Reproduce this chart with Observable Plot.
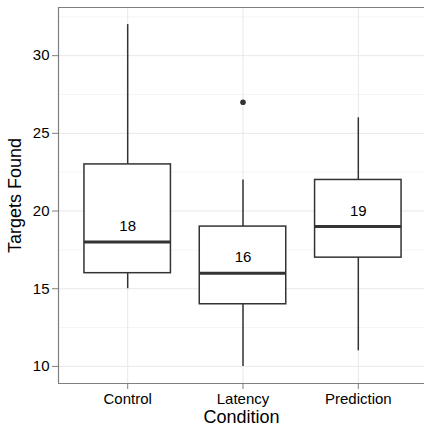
<!DOCTYPE html>
<html>
<head>
<meta charset="utf-8">
<script src="https://cdn.jsdelivr.net/npm/d3@7"></script>
<script src="https://cdn.jsdelivr.net/npm/@observablehq/plot@0.6"></script>
<style>
  body { margin: 0; overflow: hidden; background: white; }
  svg { overflow: hidden; }
  g[aria-label="y-axis label"], g[aria-label="x-axis label"] { font-size: 18px; }
</style>
</head>
<body>
<div id="chart"></div>
<script>
const conditions = ["Control", "Latency", "Prediction"];
const lowerWhisker = [15, 10, 11];
const q1 = [16, 14, 17];
const median = [18, 16, 19];
const q3 = [23, 19, 22];
const upperWhisker = [32, 22, 26];
const outlierCondition = ["Latency"];
const outlierValue = [27];
const yTicks = [10, 15, 20, 25, 30];
const yMinor = [12.5, 17.5, 22.5, 27.5, 32.5];
const yDomain = [8.9, 33.1];
const xDomain = [0.4, 3.6];

const boxes = conditions.map((c, i) => ({
  c, pos: i + 1, lo: lowerWhisker[i], q1: q1[i], med: median[i], q3: q3[i], hi: upperWhisker[i]
}));
const outliers = outlierCondition.map((c, i) => ({pos: conditions.indexOf(c) + 1, v: outlierValue[i]}));
const hw = 0.375;

const plot = Plot.plot({
  width: 424,
  height: 426,
  marginLeft: 58,
  marginRight: 0,
  marginTop: 7,
  marginBottom: 43,
  style: {fontFamily: "'Liberation Sans', Arial, sans-serif", fontSize: "15px", color: "black", background: "white"},
  x: {domain: xDomain, range: [58, 427]},
  y: {domain: yDomain},
  marks: [
    Plot.ruleY(yMinor, {stroke: "#f5f5f5", strokeWidth: 1}),
    Plot.ruleY(yTicks, {stroke: "#e8e8e8", strokeWidth: 1}),
    Plot.ruleX([1, 2, 3], {stroke: "#e8e8e8", strokeWidth: 1}),
    Plot.ruleX(boxes, {x: "pos", y1: "lo", y2: "q1", stroke: "#333333", strokeWidth: 1.5}),
    Plot.ruleX(boxes, {x: "pos", y1: "q3", y2: "hi", stroke: "#333333", strokeWidth: 1.5}),
    Plot.rect(boxes, {x1: d => d.pos - hw, x2: d => d.pos + hw, y1: "q1", y2: "q3", fill: "white", stroke: "#333333", strokeWidth: 1.5}),
    Plot.ruleY(boxes, {y: "med", x1: d => d.pos - hw, x2: d => d.pos + hw, stroke: "#333333", strokeWidth: 3}),
    Plot.dot(outliers, {x: "pos", y: "v", r: 2.8, fill: "#333333", stroke: null}),
    Plot.text(boxes, {x: "pos", y: d => d.med + 1, text: d => String(d.med), fill: "black", fontSize: 15}),
    Plot.ruleY(yDomain, {stroke: "#7f7f7f", strokeWidth: 1.2}),
    Plot.ruleX([xDomain[0]], {stroke: "#7f7f7f", strokeWidth: 1.2}),
    Plot.axisY({ticks: yTicks, tickSize: 6, tickPadding: 3, stroke: "#7f7f7f", fill: "black", label: "Targets Found", labelAnchor: "center", labelOffset: 50, labelArrow: "none"}),
    Plot.axisX({ticks: [1, 2, 3], tickFormat: d => conditions[d - 1], tickSize: 6, tickPadding: 4, stroke: "#7f7f7f", fill: "black", label: "Condition", labelAnchor: "center", labelOffset: 39, labelArrow: "none"})
  ]
});
document.getElementById("chart").appendChild(plot);
</script>
</body>
</html>
